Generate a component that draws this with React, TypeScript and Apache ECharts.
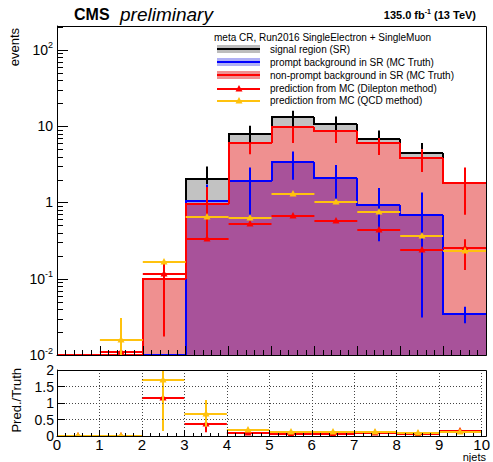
import React, { useEffect, useRef } from 'react';
import * as echarts from 'echarts';

// ---------- data ----------
const binLow = [0, 1, 2, 3, 4, 5, 6, 7, 8, 9];
const binHigh = [1, 2, 3, 4, 5, 6, 7, 8, 9, 10];

const srValues = [0, 0, 0.1, 2.03, 8.0, 13.4, 10.7, 6.8, 4.5, 1.79];
const promptValues = [0, 0, 0, 1.06, 1.94, 3.37, 2.12, 0.93, 0.69, 0.035];
const nonPromptValues = [0, 0, 0.1, 0.96, 6.1, 9.9, 8.7, 6.0, 3.8, 1.79];

const srErrLow = [0, 0, 0, 1.75, 6.1, 9.9, 8.9, 7.0, 5.0, 0];
const srErrHigh = [0, 0, 0, 2.96, 10.1, 15.9, 13.4, 8.76, 6.0, 0];
const promptErrLow = [0, 0, 0, 0.7, 0.65, 1.98, 0.99, 0.31, 0.031, 0.026];
const promptErrHigh = [0, 0, 0, 1.72, 2.87, 4.65, 3.11, 1.55, 1.35, 0.043];
const nonPromptErrLow = [0, 0, 0.0175, 0.33, 4.3, 6.0, 6.0, 4.2, 2.5, 0.69];
const nonPromptErrHigh = [0, 0, 0.174, 1.6, 6.1, 9.9, 8.9, 7.0, 5.0, 2.87];

const dilepPred = [0, 0.011, 0.115, 0.333, 0.52, 0.667, 0.574, 0.43, 0.239, 0.25];
const dilepErrLow = [0, 0, 0, 0, 0, 0, 0, 0, 0, 0.13];
const dilepErrHigh = [0, 0, 0, 0, 0, 0, 0, 0, 0, 0.33];
const qcdPred = [0, 0.0155, 0.167, 0.64, 0.63, 1.28, 1.0, 0.74, 0.368, 0.232];
const qcdErrLow = [0, 0.005, 0, 0, 0, 0, 0, 0, 0, 0];
const qcdErrHigh = [0, 0.0306, 0, 0, 0, 0, 0, 0, 0, 0];

const ratioDilep = [0, 0, 1.15, 0.35, 0.08, 0.06, 0.07, 0.08, 0.07, 0.14];
const ratioDilepErrLow = [0, 0, 1.0, 0.11, 0, 0, 0, 0, 0, 0];
const ratioDilepErrHigh = [0, 0, 1.3, 0.43, 0, 0, 0, 0, 0, 0];
const ratioQcd = [0, 0, 1.7, 0.67, 0.18, 0.13, 0.11, 0.11, 0.09, 0.13];
const ratioQcdErrLow = [0, 0, 0.15, 0.28, 0, 0, 0, 0, 0, 0];
const ratioQcdErrHigh = [0, 0, 2.6, 1.09, 0, 0, 0, 0, 0, 0];

const legendHeader = 'meta CR, Run2016 SingleElectron + SingleMuon';
const legendLabels = [
  'signal region (SR)',
  'prompt background in SR (MC Truth)',
  'non-prompt background in SR (MC Truth)',
  'prediction from MC (Dilepton method)',
  'prediction from MC (QCD method)',
];
const xTickLabels = ['0', '1', '2', '3', '4', '5', '6', '7', '8', '9', '10'];
const ratioTickLabels = ['0', '0.5', '1', '1.5', '2'];

// ---------- style ----------
const FF = '"Liberation Sans", Arial, Helvetica, sans-serif';
const YMIN = 0.01;
const YMAX = 206;
const RED = '#ff0000';
const BLUE = '#0000ff';
const GOLD = '#ffc20e';
const FILL_SR = '#c2c2c2';
const FILL_PROMPT = '#9a9ae0';
const FILL_NONPROMPT = '#ef9090';
const FILL_OVERLAP = '#a8529a';
const GL = 57, GT = 26, GW = 429, GH = 329;
const RT = 370, RH = 66;

const clampLog = (v: number) => (v > YMIN ? v : YMIN);

function histFill(values: number[], fill: string) {
  return {
    type: 'custom', xAxisIndex: 0, yAxisIndex: 0, silent: true,
    data: values.map((v, i) => [binLow[i], binHigh[i], v]),
    encode: { x: [0, 1], y: 2 },
    renderItem: (_p: any, api: any) => {
      const v = api.value(2);
      if (!(v > YMIN)) return null;
      const a = api.coord([api.value(0), v]);
      const b = api.coord([api.value(1), YMIN]);
      const x0 = Math.round(a[0]), x1 = Math.round(b[0]);
      const y0 = Math.round(a[1]), y1 = Math.round(b[1]);
      return { type: 'rect', shape: { x: x0, y: y0, width: x1 - x0, height: y1 - y0 }, style: { fill } };
    },
  };
}

function histLine(values: number[], stroke: string) {
  return {
    type: 'custom', xAxisIndex: 0, yAxisIndex: 0, silent: true,
    data: values.map((v, i) => [binLow[i], binHigh[i], v, i === 0 ? 0 : values[i - 1]]),
    encode: { x: [0, 1], y: [2, 3] },
    renderItem: (_p: any, api: any) => {
      const v = clampLog(api.value(2));
      const vp = clampLog(api.value(3));
      const a = api.coord([api.value(0), v]);
      const b = api.coord([api.value(1), v]);
      const c = api.coord([api.value(0), vp]);
      const x0 = Math.round(a[0]), x1 = Math.round(b[0]);
      const y = Math.round(a[1]), yp = Math.round(c[1]);
      return {
        type: 'polyline',
        shape: { points: [[x0, yp], [x0, y], [x1, y]] },
        style: { stroke, lineWidth: 2, fill: null },
      };
    },
  };
}

function errSeries(values: number[], lo: number[], hi: number[], stroke: string) {
  return {
    type: 'custom', xAxisIndex: 0, yAxisIndex: 0, silent: true, clip: true,
    data: values.map((v, i) => [(binLow[i] + binHigh[i]) / 2, v, lo[i], hi[i]]),
    encode: { x: 0, y: [1, 2, 3] },
    renderItem: (_p: any, api: any) => {
      const l = api.value(2), h = api.value(3);
      if (!(h > l) || !(l > 0)) return null;
      const a = api.coord([api.value(0), l]);
      const b = api.coord([api.value(0), h]);
      const x = Math.round(a[0]);
      return { type: 'line', shape: { x1: x, y1: a[1], x2: x, y2: b[1] }, style: { stroke, lineWidth: 2 } };
    },
  };
}

function predSeries(values: number[], lo: number[], hi: number[], color: string, grid: number, isLog: boolean) {
  return {
    type: 'custom', xAxisIndex: grid, yAxisIndex: grid, silent: true, clip: true,
    data: values.map((v, i) => [binLow[i], binHigh[i], v, lo[i], hi[i]]),
    encode: { x: [0, 1], y: [2, 3, 4] },
    renderItem: (_p: any, api: any) => {
      const x0 = api.value(0), x1 = api.value(1), v = api.value(2);
      const l = api.value(3), h = api.value(4);
      if (isLog && !(v > 0)) return null;
      const xc = (x0 + x1) / 2;
      const a = api.coord([x0, v]);
      const b = api.coord([x1, v]);
      const c = api.coord([xc, v]);
      const y = Math.round(c[1]);
      const cx = Math.round(c[0]);
      const children: any[] = [];
      children.push({ type: 'line', shape: { x1: a[0], y1: y, x2: b[0], y2: y }, style: { stroke: color, lineWidth: 2 } });
      if (h > l) {
        const pl = api.coord([xc, isLog ? Math.max(l, 1e-4) : l]);
        const ph = api.coord([xc, h]);
        children.push({ type: 'line', shape: { x1: cx, y1: pl[1], x2: cx, y2: ph[1] }, style: { stroke: color, lineWidth: 2 } });
      }
      children.push({
        type: 'polygon',
        shape: { points: [[cx, y - 4], [cx - 3.5, y + 2.5], [cx + 3.5, y + 2.5]] },
        style: { fill: color },
      });
      return { type: 'group', children };
    },
  };
}

export default function App() {
  const ref = useRef<HTMLDivElement>(null);
  useEffect(() => {
    const chart = echarts.init(ref.current!, null, { renderer: 'svg' });

    // region where the prompt and non-prompt fill patterns overlap
    const overlapValues = promptValues.map((v, i) => Math.min(v, nonPromptValues[i]));

    // log-axis tick marks (major and minor)
    const decades = [0.01, 0.1, 1, 10, 100];
    const yTicks: number[][] = [];
    decades.forEach((d) => {
      yTicks.push([0, d, 11]);
      for (let k = 2; k <= 9; k++) if (d * k <= YMAX) yTicks.push([0, d * k, 6]);
    });

    const legendRowsY = [49.3, 62, 75.3, 88.7, 100.7];
    const symX0 = 217, symX1 = 260;
    const legendGraphics: any[] = [];
    legendGraphics.push({
      type: 'text', x: 214, y: 37, z: 50,
      style: { text: legendHeader, fontSize: 10, fontFamily: FF, fill: '#000', verticalAlign: 'middle' },
    });
    const boxFills = ['#bdbdbd', '#b0b0f4', FILL_NONPROMPT];
    const boxLines = ['#000', BLUE, RED];
    for (let i = 0; i < 3; i++) {
      const cy = legendRowsY[i];
      legendGraphics.push({ type: 'rect', z: 50, shape: { x: symX0, y: Math.round(cy - 4), width: symX1 - symX0, height: 8 }, style: { fill: boxFills[i] } });
      legendGraphics.push({ type: 'line', z: 51, shape: { x1: symX0, y1: Math.round(cy), x2: symX1, y2: Math.round(cy) }, style: { stroke: boxLines[i], lineWidth: 2 } });
    }
    const predCols = [RED, GOLD];
    for (let i = 3; i < 5; i++) {
      const cy = Math.round(legendRowsY[i]);
      const cx = Math.round((symX0 + symX1) / 2);
      legendGraphics.push({ type: 'line', z: 51, shape: { x1: symX0, y1: cy, x2: symX1, y2: cy }, style: { stroke: predCols[i - 3], lineWidth: 2 } });
      legendGraphics.push({ type: 'polygon', z: 52, shape: { points: [[cx, cy - 4], [cx - 3.5, cy + 2.5], [cx + 3.5, cy + 2.5]] }, style: { fill: predCols[i - 3] } });
    }
    legendLabels.forEach((t, i) => {
      legendGraphics.push({
        type: 'text', x: 270, y: legendRowsY[i], z: 50,
        style: { text: t, fontSize: 10, fontFamily: FF, fill: '#000', verticalAlign: 'middle' },
      });
    });

    const option: any = {
      animation: false,
      textStyle: { fontFamily: FF },
      grid: [
        { left: GL, top: GT, width: GW, height: GH, show: false },
        { left: GL, top: RT, width: GW, height: RH, show: false },
      ],
      xAxis: [
        {
          gridIndex: 0, type: 'value', min: 0, max: 10, interval: 1, z: 10,
          axisLine: { show: true, onZero: false, lineStyle: { color: '#000', width: 1 } },
          axisTick: { show: true, inside: true, length: 9, lineStyle: { color: '#000' } },
          minorTick: { show: true, splitNumber: 5, length: 5, lineStyle: { color: '#000' } },
          axisLabel: { show: false },
          splitLine: { show: false },
        },
        {
          gridIndex: 1, type: 'value', min: 0, max: 10, interval: 1, z: 10,
          axisLine: { show: true, onZero: false, lineStyle: { color: '#000', width: 1 } },
          axisTick: { show: true, inside: true, length: 6, lineStyle: { color: '#000' } },
          minorTick: { show: true, splitNumber: 5, length: 3, lineStyle: { color: '#000' } },
          axisLabel: {
            show: true, fontSize: 15, color: '#000', margin: 1, fontFamily: FF,
            formatter: (v: number) => xTickLabels[Math.round(v)] ?? '',
          },
          splitLine: { show: true, lineStyle: { color: '#444', width: 1, type: [1, 2] } },
        },
      ],
      yAxis: [
        {
          gridIndex: 0, type: 'log', logBase: 10, min: YMIN, max: YMAX, z: 10,
          axisLine: { show: true, lineStyle: { color: '#000', width: 1 } },
          axisTick: { show: false },
          splitLine: { show: false },
          axisLabel: {
            show: true, color: '#000', margin: 4, fontFamily: FF,
            formatter: (v: number) => {
              const lg = Math.log10(v);
              const e = Math.round(lg);
              if (Math.abs(lg - e) > 1e-6) return '';
              if (e === 0) return '{b|1}';
              if (e === 1) return '{b|10}';
              return '{b|10}{s|' + e + '}';
            },
            rich: {
              b: { fontSize: 14, fontFamily: FF, color: '#000', lineHeight: 18 },
              s: { fontSize: 9, fontFamily: FF, color: '#000', verticalAlign: 'top', lineHeight: 10 },
            },
          },
        },
        {
          gridIndex: 1, type: 'value', min: 0, max: 2, interval: 0.5, z: 10,
          axisLine: { show: true, onZero: false, lineStyle: { color: '#000', width: 1 } },
          axisTick: { show: true, inside: true, length: 8, lineStyle: { color: '#000' } },
          axisLabel: {
            show: true, fontSize: 14, color: '#000', margin: 3, fontFamily: FF,
            formatter: (v: number) => ratioTickLabels[Math.round(v * 2)] ?? '',
          },
          splitLine: { show: true, lineStyle: { color: '#444', width: 1, type: [1, 2] } },
        },
      ],
      series: [
        histFill(srValues, FILL_SR),
        histFill(promptValues, FILL_PROMPT),
        histFill(nonPromptValues, FILL_NONPROMPT),
        histFill(overlapValues, FILL_OVERLAP),
        histLine(srValues, '#000'),
        histLine(promptValues, BLUE),
        histLine(nonPromptValues, RED),
        errSeries(promptValues, promptErrLow, promptErrHigh, BLUE),
        errSeries(srValues, srErrLow, srErrHigh, '#000'),
        errSeries(nonPromptValues, nonPromptErrLow, nonPromptErrHigh, RED),
        predSeries(dilepPred, dilepErrLow, dilepErrHigh, RED, 0, true),
        predSeries(qcdPred, qcdErrLow, qcdErrHigh, GOLD, 0, true),
        predSeries(ratioDilep, ratioDilepErrLow, ratioDilepErrHigh, RED, 1, false),
        predSeries(ratioQcd, ratioQcdErrLow, ratioQcdErrHigh, GOLD, 1, false),
        {
          type: 'custom', xAxisIndex: 0, yAxisIndex: 0, silent: true, z: 20,
          data: yTicks,
          encode: { x: 0, y: 1 },
          renderItem: (_p: any, api: any) => {
            const c = api.coord([0, api.value(1)]);
            const y = Math.round(c[1]) + 0.5;
            return { type: 'line', shape: { x1: c[0], y1: y, x2: c[0] + api.value(2), y2: y }, style: { stroke: '#000', lineWidth: 1 } };
          },
        },
      ],
      graphic: [
        { type: 'rect', z: 100, silent: true, shape: { x: GL + 0.5, y: GT + 0.5, width: GW, height: GH }, style: { fill: null, stroke: '#000', lineWidth: 1 } },
        { type: 'rect', z: 100, silent: true, shape: { x: GL + 0.5, y: RT + 0.5, width: GW, height: RH }, style: { fill: null, stroke: '#000', lineWidth: 1 } },
        { type: 'text', x: 74, y: 14, z: 100, style: { text: 'CMS', fontSize: 16, fontWeight: 'bold', fontFamily: FF, fill: '#000', verticalAlign: 'middle' } },
        { type: 'text', x: 120, y: 14, z: 100, style: { text: 'preliminary', fontSize: 19, fontStyle: 'italic', fontFamily: FF, fill: '#000', verticalAlign: 'middle' } },
        {
          type: 'text', x: 476, y: 15, z: 100,
          style: {
            text: '{b|135.0 fb}{s|-1}{b| (13 TeV)}', align: 'right', verticalAlign: 'middle', fill: '#000',
            rich: {
              b: { fontSize: 11, fontWeight: 'bold', fontFamily: FF, fill: '#000', lineHeight: 14 },
              s: { fontSize: 7, fontWeight: 'bold', fontFamily: FF, fill: '#000', verticalAlign: 'top', lineHeight: 8 },
            },
          },
        },
        { type: 'text', x: 14, y: 28, rotation: Math.PI / 2, z: 100, style: { text: 'events', fontSize: 13, fontFamily: FF, fill: '#000', align: 'right', verticalAlign: 'middle' } },
        { type: 'text', x: 16, y: 368, rotation: Math.PI / 2, z: 100, style: { text: 'Pred./Truth', fontSize: 13, fontFamily: FF, fill: '#000', align: 'right', verticalAlign: 'middle' } },
        { type: 'text', x: 486, y: 457, z: 100, style: { text: 'njets', fontSize: 11, fontFamily: FF, fill: '#000', align: 'right', verticalAlign: 'middle' } },
        ...legendGraphics,
      ],
    };
    chart.setOption(option);
    return () => chart.dispose();
  }, []);
  return (
    <div
      ref={ref}
      style={{ position: 'absolute', left: 0, top: 0, width: 493, height: 462, background: '#fff' }}
    />
  );
}
